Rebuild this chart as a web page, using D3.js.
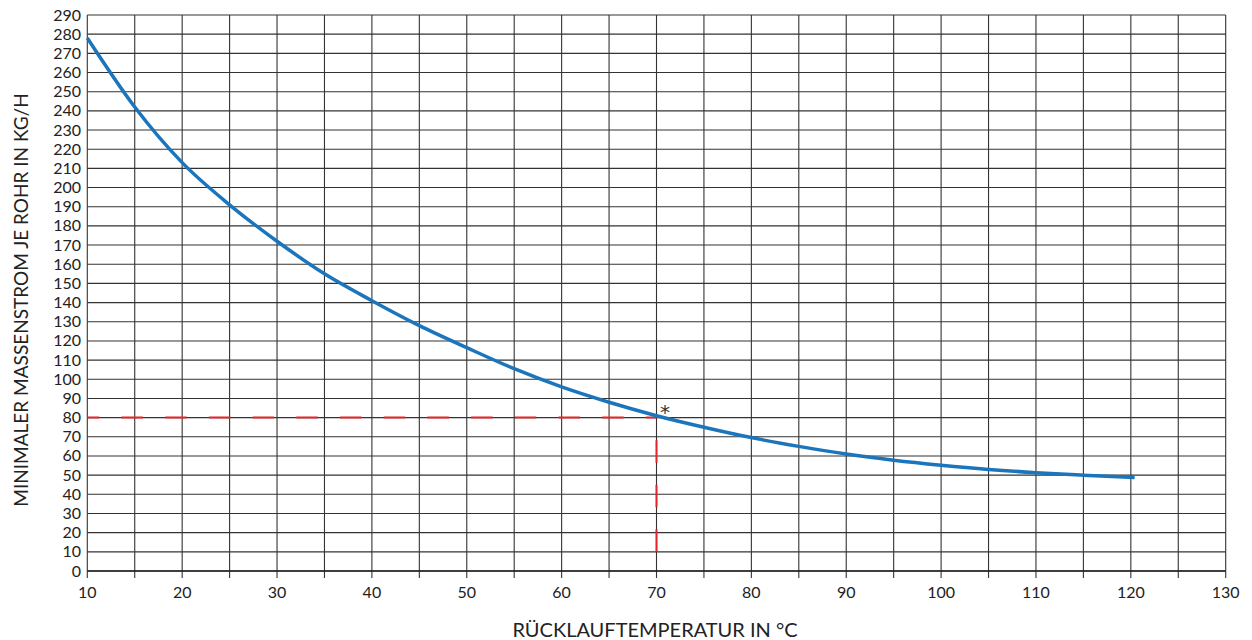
<!DOCTYPE html>
<html><head><meta charset="utf-8">
<script src="https://cdn.jsdelivr.net/npm/d3@7"></script>
<style>body{margin:0;background:#fff}svg{display:block}text{font-family:Lato,"Open Sans",sans-serif;fill:#222}</style>
</head><body><svg id="c" width="1252" height="640"></svg>
<script>
const temps = [10,15,20,25,30,35,40,45,50,55,60,65,70,75,80,85,90,95,100,105,110,115,120.4];
const flows = [278,242,213,191,172,155,141,128,116.5,105.5,96,88,81,75,69.6,65,61,57.8,55.2,53,51.3,50,48.8];
const xTicks = [10,20,30,40,50,60,70,80,90,100,110,120,130];
const yTicks = d3.range(0,300,10);
const markerX = [10,70], markerY = 80, markerBottom = 10;

const svg = d3.select("#c");
const x = d3.scaleLinear().domain([10,130]).range([87.3,1225.7]);
const y = d3.scaleLinear().domain([0,290]).range([571,15]);

const g = svg.append("g");
g.selectAll(".vg").data(d3.range(10,131,5)).join("line")
  .attr("x1",d=>x(d)).attr("x2",d=>x(d)).attr("y1",y(290)).attr("y2",578)
  .attr("stroke","#333").attr("stroke-width",1.1);
g.selectAll(".hg").data(yTicks).join("line")
  .attr("x1",x(10)).attr("x2",x(130)).attr("y1",d=>y(d)).attr("y2",d=>y(d))
  .attr("stroke","#333").attr("stroke-width",1.1);
g.append("line").attr("x1",x(10)).attr("x2",x(130)).attr("y1",y(0)).attr("y2",y(0)).attr("stroke","#222").attr("stroke-width",1.6);

g.selectAll(".yl").data(yTicks).join("text")
  .attr("x",81).attr("y",d=>y(d)+5.5).attr("text-anchor","end").attr("font-size",16).text(d=>d);
g.selectAll(".xl").data(xTicks).join("text")
  .attr("x",d=>x(d)).attr("y",598).attr("text-anchor","middle").attr("font-size",16).text(d=>d);

svg.append("text").attr("x",655).attr("y",637).attr("text-anchor","middle").attr("font-size",20).text("RÜCKLAUFTEMPERATUR IN °C");
svg.append("text").attr("transform","translate(28,300) rotate(-90)").attr("text-anchor","middle").attr("font-size",19).text("MINIMALER MASSENSTROM JE ROHR IN KG/H");

svg.append("line").attr("x1",x(markerX[0])).attr("x2",x(markerX[1])).attr("y1",y(markerY)).attr("y2",y(markerY))
  .attr("stroke","#e3242b").attr("stroke-width",2).attr("stroke-dasharray","21.5,22.2").attr("stroke-dashoffset",9.5);
svg.append("line").attr("x1",x(markerX[1])).attr("x2",x(markerX[1])).attr("y1",y(markerBottom)).attr("y2",y(markerY))
  .attr("stroke","#e3242b").attr("stroke-width",2).attr("stroke-dasharray","22.5,22");

const data = temps.map((t,i)=>[t,flows[i]]);
svg.append("path").datum(data).attr("fill","none").attr("stroke","#1b75bc").attr("stroke-width",3.5)
  .attr("d", d3.line().x(d=>x(d[0])).y(d=>y(d[1])).curve(d3.curveMonotoneX));

svg.append("text").attr("x",665).attr("y",419).attr("text-anchor","middle").attr("font-size",20)
  .style("font-family","'DejaVu Sans'").style("fill","#333").text("*");
</script></body></html>
